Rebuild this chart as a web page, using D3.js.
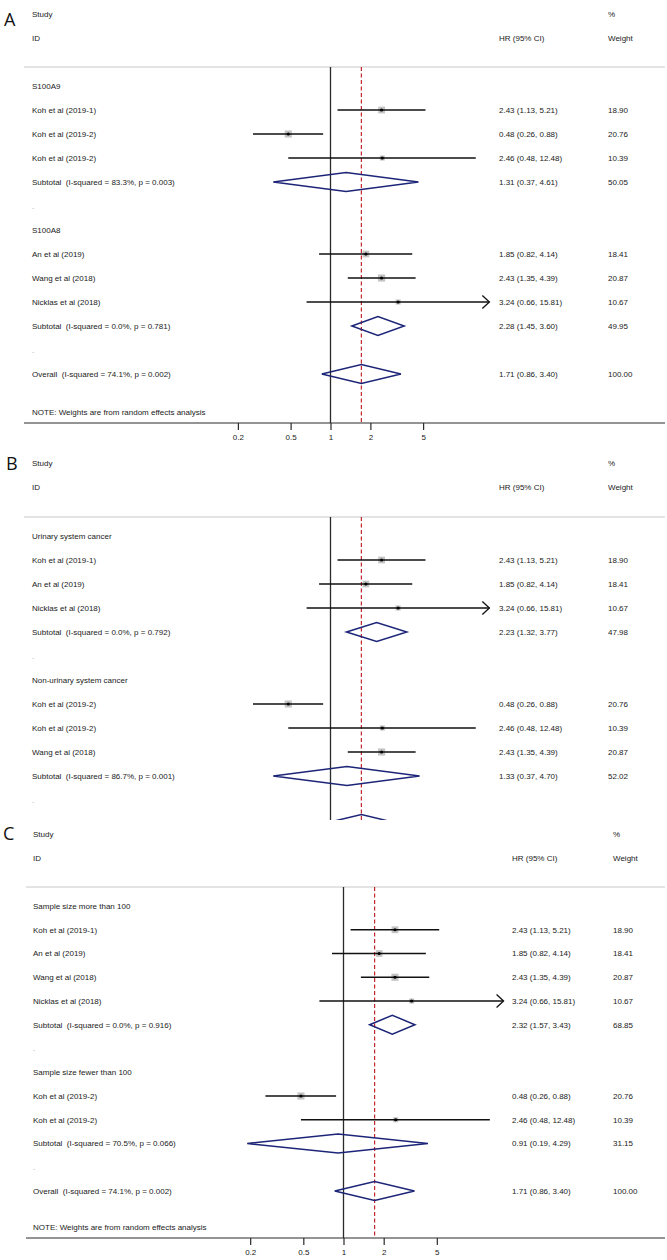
<!DOCTYPE html>
<html><head><meta charset="utf-8">
<script src="https://cdn.jsdelivr.net/npm/d3@7"></script>
<style>
body{margin:0;background:#fff}
svg text{font-family:"Liberation Sans",Arial,sans-serif;font-size:8px;fill:#1a1a1a;white-space:pre}
svg text.panel{font-family:"Open Sans","DejaVu Sans",sans-serif;font-size:18px;fill:#111}
</style></head><body><svg id="c" width="667" height="1260"></svg>
<script>
// ---------- data ----------
const studyNames = ["Koh et al (2019-1)","Koh et al (2019-2)","Koh et al (2019-2)","An et al (2019)","Wang et al (2018)","Nicklas et al (2018)"];
const studyHR    = [2.43, 0.48, 2.46, 1.85, 2.43, 3.24];
const studyLow   = [1.13, 0.26, 0.48, 0.82, 1.35, 0.66];
const studyHigh  = [5.21, 0.88, 12.48, 4.14, 4.39, 15.81];
const studyWeight= [18.90, 20.76, 10.39, 18.41, 20.87, 10.67];

const overallHR = 1.71, overallLow = 0.86, overallHigh = 3.40, overallWeight = 100.00;
const overallStats = "I-squared = 74.1%, p = 0.002";

const tickValues = [0.2, 0.5, 1, 2, 5];
const tickLabels = ["0.2", "0.5", "1", "2", "5"];

// Panel A
const groupNamesA = ["S100A9", "S100A8"];
const groupMembersA = [[0,1,2],[3,4,5]];
const subHRA = [1.31, 2.28], subLowA = [0.37, 1.45], subHighA = [4.61, 3.60], subWeightA = [50.05, 49.95];
const subStatsA = ["I-squared = 83.3%, p = 0.003", "I-squared = 0.0%, p = 0.781"];
// Panel B
const groupNamesB = ["Urinary system cancer", "Non-urinary system cancer"];
const groupMembersB = [[0,3,5],[1,2,4]];
const subHRB = [2.23, 1.33], subLowB = [1.32, 0.37], subHighB = [3.77, 4.70], subWeightB = [47.98, 52.02];
const subStatsB = ["I-squared = 0.0%, p = 0.792", "I-squared = 86.7%, p = 0.001"];
// Panel C
const groupNamesC = ["Sample size more than 100", "Sample size fewer than 100"];
const groupMembersC = [[0,3,4,5],[1,2]];
const subHRC = [2.32, 0.91], subLowC = [1.57, 0.19], subHighC = [3.43, 4.29], subWeightC = [68.85, 31.15];
const subStatsC = ["I-squared = 0.0%, p = 0.916", "I-squared = 70.5%, p = 0.066"];

const noteText = "NOTE: Weights are from random effects analysis";
const arrowBeyond = 15;

// ---------- drawing ----------
const svg = d3.select("#c");
const fmt = v => v.toFixed(2);

function drawPanel(cfg, gNames, gMembers, sHR, sLow, sHigh, sW, sStats) {
  const g = svg.append("g");
  const limit = cfg.clipY || 1e9;
  if (cfg.clipY) {
    svg.append("clipPath").attr("id", "clip" + cfg.letter)
      .append("rect").attr("x", 0).attr("y", 0).attr("width", 667).attr("height", cfg.clipY);
    g.attr("clip-path", `url(#clip${cfg.letter})`);
  }
  const x = d3.scaleLog().domain([0.2, 5])
    .range([cfg.nullX - cfg.decade * Math.log10(5), cfg.nullX + cfg.decade * Math.log10(5)]);

  // rows
  const rows = [];
  gNames.forEach((name, i) => {
    rows.push({type: "group", label: name});
    gMembers[i].forEach(k => rows.push({type: "study", label: studyNames[k], hr: studyHR[k], lo: studyLow[k], hi: studyHigh[k], w: studyWeight[k]}));
    rows.push({type: "sub", label: "Subtotal  (" + sStats[i] + ")", hr: sHR[i], lo: sLow[i], hi: sHigh[i], w: sW[i]});
    rows.push({type: "blank", label: "."});
  });
  rows.push({type: "sub", label: "Overall  (" + overallStats + ")", hr: overallHR, lo: overallLow, hi: overallHigh, w: overallWeight});
  rows.forEach((r, i) => r.y = cfg.row0 + i * cfg.step);
  const overallY = rows[rows.length - 1].y;
  const noteY = overallY + cfg.noteGap;
  const axisY = overallY + cfg.axisGap;
  const textRows = rows.filter(d => d.y + 4 < limit);

  // panel letter
  g.append("text").attr("class", "panel").attr("x", cfg.letterX).attr("y", cfg.letterY).text(cfg.letter);
  // headers
  g.append("text").attr("x", cfg.textX).attr("y", cfg.h1).attr("dy", "0.35em").text("Study");
  g.append("text").attr("x", cfg.textX).attr("y", cfg.h2).attr("dy", "0.35em").text("ID");
  g.append("text").attr("x", cfg.wX).attr("y", cfg.h1).attr("dy", "0.35em").text("%");
  g.append("text").attr("x", cfg.hrX).attr("y", cfg.h2).attr("dy", "0.35em").text("HR (95% CI)");
  g.append("text").attr("x", cfg.wX).attr("y", cfg.h2).attr("dy", "0.35em").text("Weight");
  // header rule
  g.append("line").attr("x1", cfg.ruleX0).attr("x2", 665).attr("y1", cfg.ruleY).attr("y2", cfg.ruleY)
    .attr("stroke", "#c8c8c8").attr("stroke-width", 1);

  // null line and overall dashed line
  g.append("line").attr("x1", x(1)).attr("x2", x(1)).attr("y1", cfg.ruleY).attr("y2", Math.min(axisY, limit))
    .attr("stroke", "#2a2a2a").attr("stroke-width", 1.3);
  g.append("line").attr("x1", x(overallHR)).attr("x2", x(overallHR)).attr("y1", cfg.ruleY).attr("y2", Math.min(axisY, limit))
    .attr("stroke", "#c0282d").attr("stroke-width", 1.2).attr("stroke-dasharray", "4,2.5");

  // row labels
  g.selectAll("text.lab").data(textRows).join("text").attr("class", "lab")
    .attr("x", cfg.textX).attr("y", d => d.y).attr("dy", "0.35em")
    .style("fill", d => d.type === "blank" ? "#999" : null)
    .text(d => d.label);
  const valRows = textRows.filter(d => d.type === "study" || d.type === "sub");
  g.selectAll("text.hr").data(valRows).join("text").attr("class", "hr")
    .attr("x", cfg.hrX).attr("y", d => d.y).attr("dy", "0.35em")
    .text(d => `${fmt(d.hr)} (${fmt(d.lo)}, ${fmt(d.hi)})`);
  g.selectAll("text.wt").data(valRows).join("text").attr("class", "wt")
    .attr("x", cfg.wX).attr("y", d => d.y).attr("dy", "0.35em")
    .text(d => fmt(d.w));

  // studies
  const st = rows.filter(d => d.type === "study");
  g.selectAll("rect.box").data(st).join("rect").attr("class", "box")
    .attr("x", d => x(d.hr) - 0.78 * Math.sqrt(d.w)).attr("y", d => d.y - 0.78 * Math.sqrt(d.w))
    .attr("width", d => 1.56 * Math.sqrt(d.w)).attr("height", d => 1.56 * Math.sqrt(d.w))
    .attr("fill", "#c4c4c4");
  g.selectAll("line.ci").data(st).join("line").attr("class", "ci")
    .attr("x1", d => x(d.lo)).attr("x2", d => x(d.hi)).attr("y1", d => d.y).attr("y2", d => d.y)
    .attr("stroke", "#111").attr("stroke-width", 1.3);
  g.selectAll("path.arrow").data(st.filter(d => d.hi > arrowBeyond)).join("path").attr("class", "arrow")
    .attr("d", d => `M${x(d.hi) - 7},${d.y - 6.5}L${x(d.hi)},${d.y}L${x(d.hi) - 7},${d.y + 6.5}`)
    .attr("fill", "none").attr("stroke", "#111").attr("stroke-width", 1.3);
  g.selectAll("circle.pt").data(st).join("circle").attr("class", "pt")
    .attr("cx", d => x(d.hr)).attr("cy", d => d.y).attr("r", 1.6).attr("fill", "#000");

  // diamonds
  const sb = rows.filter(d => d.type === "sub");
  g.selectAll("path.dia").data(sb).join("path").attr("class", "dia")
    .attr("d", d => `M${x(d.lo)},${d.y}L${x(d.hr)},${d.y - 9.5}L${x(d.hi)},${d.y}L${x(d.hr)},${d.y + 9.5}Z`)
    .attr("fill", "none").attr("stroke", "#1c2577").attr("stroke-width", 1.5);

  if (axisY > limit) return;
  // note
  g.append("text").attr("x", cfg.textX).attr("y", noteY).attr("dy", "0.35em").text(noteText);

  // axis
  g.append("line").attr("x1", cfg.ruleX0).attr("x2", 665).attr("y1", axisY).attr("y2", axisY)
    .attr("stroke", "#2a2a2a").attr("stroke-width", 1.2);
  const ax = g.append("g").attr("transform", `translate(0,${axisY})`)
    .call(d3.axisBottom(x).tickValues(tickValues).tickFormat((d, i) => tickLabels[i]).tickSize(7).tickPadding(4));
  ax.select(".domain").remove();
  ax.selectAll(".tick line").attr("stroke", "#2a2a2a").attr("stroke-width", 1.2);
  ax.selectAll(".tick text").style("font-family", '"Liberation Sans",Arial,sans-serif').style("font-size", "8px").attr("fill", "#1a1a1a");
}

drawPanel({letter: "A", letterX: 4, letterY: 26, textX: 32, hrX: 499, wX: 608, nullX: 330.5, decade: 132.5,
  h1: 14, h2: 38, ruleY: 67, ruleX0: 24, row0: 86, step: 24, noteGap: 38, axisGap: 49},
  groupNamesA, groupMembersA, subHRA, subLowA, subHighA, subWeightA, subStatsA);

drawPanel({letter: "B", letterX: 6, letterY: 470, textX: 32, hrX: 499, wX: 608, nullX: 330.5, decade: 132.5,
  h1: 463, h2: 487, ruleY: 517, ruleX0: 24, row0: 536, step: 24, noteGap: 38, axisGap: 49, clipY: 820},
  groupNamesB, groupMembersB, subHRB, subLowB, subHighB, subWeightB, subStatsB);

drawPanel({letter: "C", letterX: 3, letterY: 840, textX: 33, hrX: 512, wX: 613, nullX: 343.5, decade: 133.5,
  h1: 834, h2: 858, ruleY: 887, ruleX0: 26, row0: 906, step: 23.75, noteGap: 36, axisGap: 47},
  groupNamesC, groupMembersC, subHRC, subLowC, subHighC, subWeightC, subStatsC);
</script></body></html>
